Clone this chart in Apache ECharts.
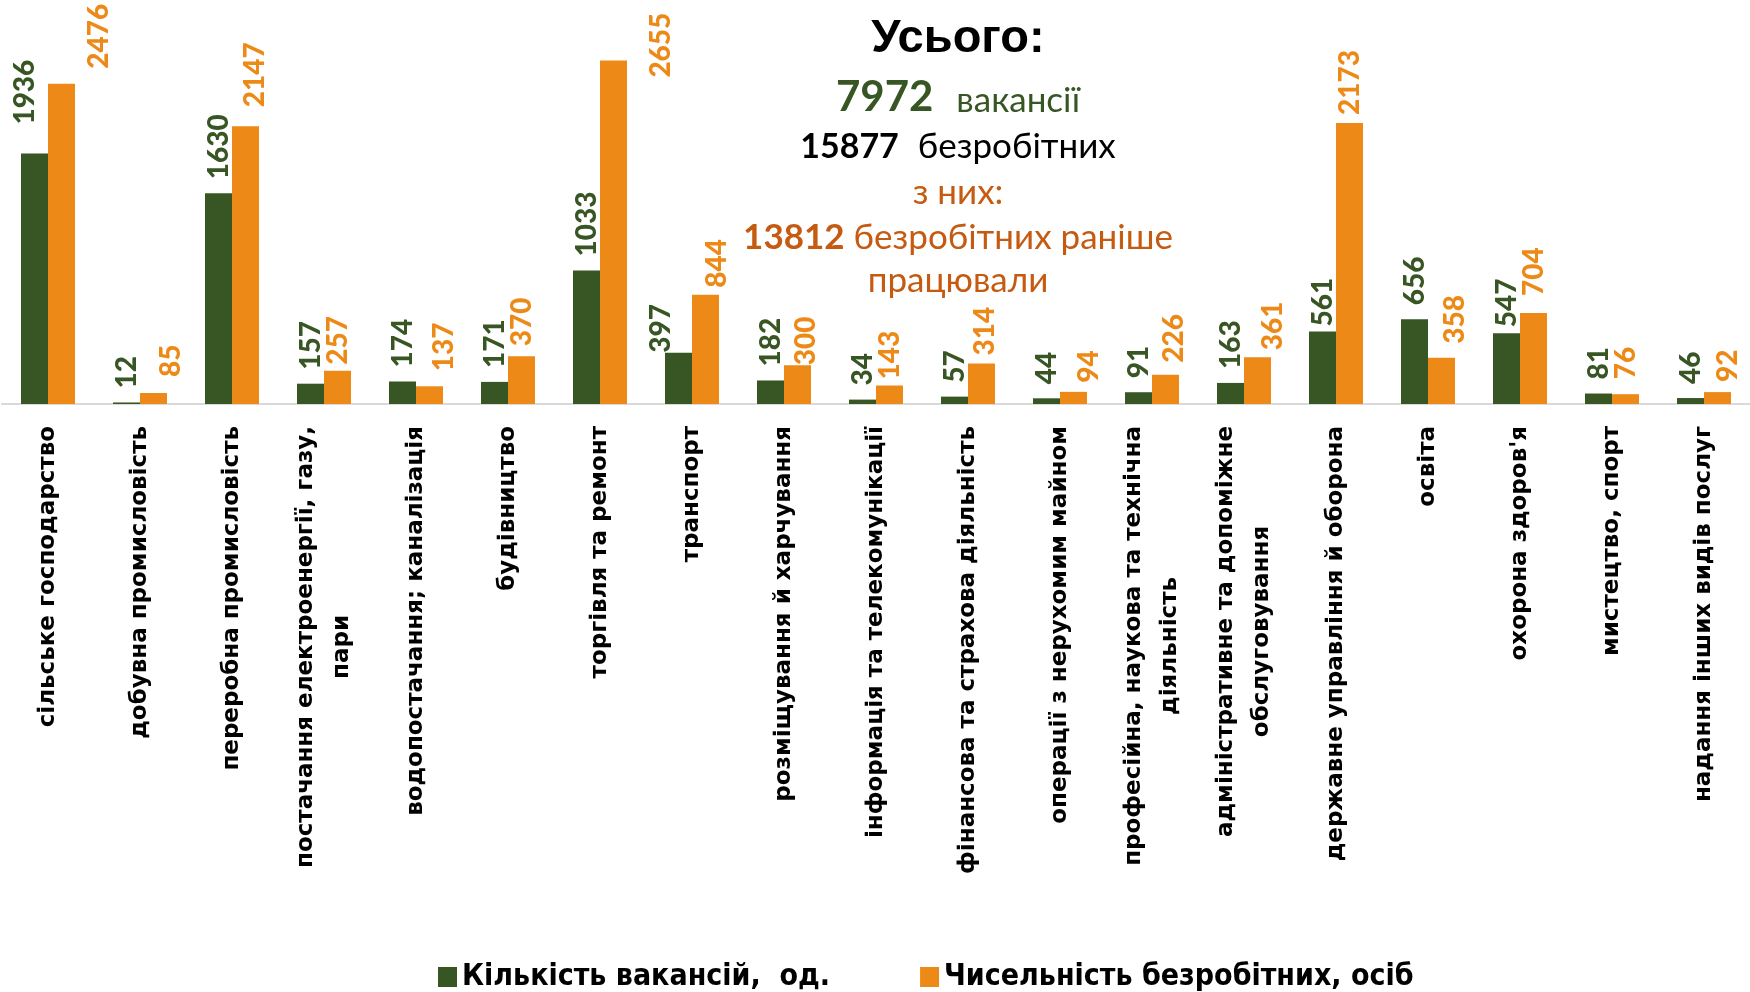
<!DOCTYPE html>
<html>
<head>
<meta charset="utf-8">
<title>Вакансії та безробітні за видами діяльності</title>
<style>
  html, body { margin: 0; padding: 0; background: #fff; }
  #chart { width: 1750px; height: 992px; }
</style>
<script src="https://cdn.jsdelivr.net/npm/echarts@6/dist/echarts.min.js"></script>
</head>
<body>
<div id="chart"></div>
<script>
// Дані
var categories = [
  'сільське господарство',
  'добувна промисловість',
  'переробна промисловість',
  'постачання електроенергії, газу,\nпари',
  'водопостачання; каналізація',
  'будівництво',
  'торгівля та ремонт',
  'транспорт',
  'розміщування й харчування',
  'інформація та телекомунікації',
  'фінансова та страхова діяльність',
  'операції з нерухомим майном',
  'професійна, наукова та технічна\nдіяльність',
  'адміністративне та допоміжне\nобслуговування',
  'державне управління й оборона',
  'освіта',
  "охорона здоров'я",
  'мистецтво, спорт',
  'надання інших видів послуг'
];
var vacancies = [1936, 12, 1630, 157, 174, 171, 1033, 397, 182, 34, 57, 44, 91, 163, 561, 656, 547, 81, 46];
var unemployed = [2476, 85, 2147, 257, 137, 370, 2655, 844, 300, 143, 314, 94, 226, 361, 2173, 358, 704, 76, 92];
var seriesNames = ['Кількість вакансій,  од.', 'Чисельність безробітних, осіб'];

var totalVacancies = 7972;
var totalUnemployed = 15877;
var workedBefore = 13812;

(function() {
  var GREEN = '#375623';
  var ORANGE = '#ED8A17';
  var BROWN = '#C55A11';
  var TXT = 'Lato, "Open Sans", sans-serif';

  // зсуви підписів (x вправо, y вниз), як їх посунули вручну в оригіналі
  var greenNudge = { 0: [-10, -15], 7: [-18, 14], 14: [0, 9], 16: [0, 8] };
  var orangeNudge = [
    [37, -5], [17, -6], [9, -9], [0, 4], [14, -5], [0, 0], [47, 27], [11, 3], [8, 10], [0, 4],
    [3, 2], [15, 1], [8, -2], [15, 3], [0, 2], [13, -4], [0, -7], [0, -5], [10, 0]
  ];

  // підпис повернуто на 90°, тому offset задається в його власних осях
  function withNudge(values, nudge) {
    return values.map(function(v, i) {
      var off = nudge[i];
      return off ? { value: v, label: { offset: [-off[1], off[0]] } } : v;
    });
  }

  function barLabel(color, distance) {
    return {
      show: true,
      position: 'top',
      distance: distance,
      rotate: 90,
      align: 'left',
      verticalAlign: 'middle',
      fontFamily: TXT,
      fontWeight: 900,
      fontSize: 28,
      color: color
    };
  }

  function titleLine(y, text, rich) {
    return {
      type: 'text',
      x: 958,
      y: y,
      style: {
        text: text,
        rich: rich,
        align: 'center',
        verticalAlign: 'middle'
      }
    };
  }

  function tok(size, color, bold, padLeft) {
    return {
      fontFamily: TXT,
      fontWeight: bold ? 'bold' : 'normal',
      fontSize: size,
      fill: color,
      verticalAlign: 'bottom',
      padding: [0, 0, 0, padLeft || 0]
    };
  }

  var chart = echarts.init(document.getElementById('chart'));

  chart.setOption({
    animation: false,
    color: [GREEN, ORANGE],
    grid: {
      left: 2,
      top: 16,
      width: 1757,
      height: 388,
      containLabel: false
    },
    legend: {
      left: 433,
      top: 957,
      icon: 'rect',
      itemWidth: 19,
      itemHeight: 20,
      itemGap: 90,
      data: seriesNames,
      textStyle: {
        fontFamily: '"Liberation Sans Narrow", "DejaVu Sans Condensed", sans-serif',
        fontWeight: 'bold',
        fontSize: 30,
        color: '#000'
      }
    },
    xAxis: {
      type: 'category',
      data: categories,
      axisLine: { lineStyle: { color: '#D9D9D9', width: 2 } },
      axisTick: { show: false },
      axisLabel: {
        interval: 0,
        rotate: 90,
        margin: 22,
        formatter: function(v) {
          return v.split('\n').map(function(s) { return '{c|' + s + '}'; }).join('\n');
        },
        rich: {
          c: {
            align: 'center',
            fontFamily: 'DejaVu Sans',
            fontWeight: 'bold',
            fontSize: 23,
            lineHeight: 36,
            color: '#000'
          }
        }
      }
    },
    yAxis: {
      type: 'value',
      min: 0,
      max: 3000,
      show: false,
      splitLine: { show: false }
    },
    series: [{
      name: seriesNames[0],
      type: 'bar',
      barWidth: 27,
      barGap: '0%',
      itemStyle: { color: GREEN },
      label: barLabel(GREEN, 14),
      data: withNudge(vacancies, greenNudge)
    }, {
      name: seriesNames[1],
      type: 'bar',
      barWidth: 27,
      barGap: '0%',
      itemStyle: { color: ORANGE },
      label: barLabel(ORANGE, 10),
      data: withNudge(unemployed, orangeNudge)
    }],
    // Блок "Усього"
    graphic: [
      {
        type: 'text',
        x: 958,
        y: 39,
        style: {
          text: 'Усього:',
          font: 'bold 47px "Liberation Sans", Arial, sans-serif',
          fill: '#000',
          align: 'center',
          verticalAlign: 'middle'
        }
      },
      titleLine(97, '{n|' + totalVacancies + '}{t|вакансії}', {
        n: tok(42, GREEN, true),
        t: tok(35, GREEN, false, 23)
      }),
      titleLine(147, '{n|' + totalUnemployed + '}{t|безробітних}', {
        n: tok(34, '#000', true),
        t: tok(35, '#000', false, 19)
      }),
      titleLine(193, '{t|з них:}', {
        t: tok(35, BROWN, false)
      }),
      titleLine(238, '{n|' + workedBefore + '}{t|безробітних раніше}', {
        n: tok(35, BROWN, true),
        t: tok(35, BROWN, false, 9)
      }),
      titleLine(281, '{t|працювали}', {
        t: tok(35, BROWN, false)
      })
    ]
  });
})();
</script>
</body>
</html>
